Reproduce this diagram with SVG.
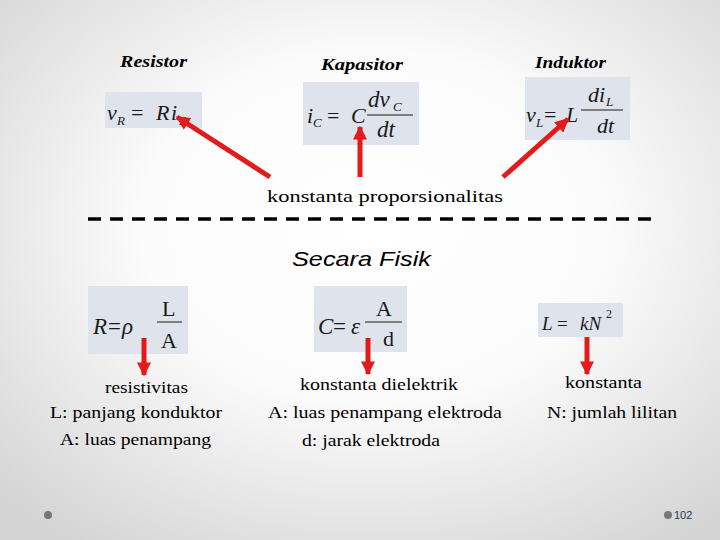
<svg xmlns="http://www.w3.org/2000/svg" width="720" height="540" viewBox="0 0 720 540">
<defs>
<radialGradient id="bg" cx="52%" cy="42%" r="72%">
<stop offset="0" stop-color="#ffffff"/>
<stop offset="0.45" stop-color="#fbfbfb"/>
<stop offset="1" stop-color="#d4d4d4"/>
</radialGradient>
<marker id="ah" viewBox="0 0 10 10" refX="9" refY="5" markerWidth="14" markerHeight="14" markerUnits="userSpaceOnUse" orient="auto">
<path d="M0,0 L10,5 L0,10 Z" fill="#e31b1b"/>
</marker>
<style>
.title{font-family:"Liberation Serif",serif;font-weight:bold;font-style:italic;font-size:17px;fill:#000}
.lbl{font-family:"Liberation Serif",serif;font-size:17px;fill:#000}
.box{fill:#dfe4ec}
.m{font-family:"Liberation Serif",serif;font-style:italic;fill:#1a1a1a}
.up{font-style:normal}
.fl{stroke:#1a1a1a;stroke-width:1}
.arr{stroke:#e31b1b;stroke-width:5;fill:none;marker-end:url(#ah)}
</style>
</defs>
<rect width="720" height="540" fill="url(#bg)"/>

<g id="resistor">
<text class="title" x="120" y="67" textLength="67" lengthAdjust="spacingAndGlyphs">Resistor</text>
<rect class="box" x="105" y="92" width="97" height="36"/>
<text class="m" font-size="22"><tspan x="107" y="120">v</tspan><tspan x="117" y="125" font-size="13">R</tspan><tspan x="131" y="120" class="up">=</tspan><tspan x="156" y="120">R</tspan><tspan x="171" y="120">i</tspan><tspan x="179" y="125" font-size="13">R</tspan></text>
</g>

<g id="kapasitor">
<text class="title" x="321" y="70" textLength="82" lengthAdjust="spacingAndGlyphs">Kapasitor</text>
<rect class="box" x="303" y="82" width="116" height="63"/>
<text class="m" font-size="22"><tspan x="307" y="123">i</tspan><tspan x="313" y="127" font-size="13">C</tspan><tspan x="327" y="123" class="up">=</tspan><tspan x="351" y="123">C</tspan></text>
<line class="fl" x1="367" y1="115" x2="413" y2="115"/>
<text class="m" font-size="23"><tspan x="368" y="107">dv</tspan><tspan x="393" y="111" font-size="13">C</tspan><tspan x="377" y="137">dt</tspan></text>
</g>

<g id="induktor">
<text class="title" x="535" y="68" textLength="71" lengthAdjust="spacingAndGlyphs">Induktor</text>
<rect class="box" x="525" y="77" width="105" height="63"/>
<text class="m" font-size="22"><tspan x="526" y="122">v</tspan><tspan x="536" y="127" font-size="13">L</tspan><tspan x="544" y="122" class="up">=</tspan><tspan x="566" y="122">L</tspan></text>
<line class="fl" x1="581" y1="110" x2="623" y2="110"/>
<text class="m" font-size="22"><tspan x="588" y="102">di</tspan><tspan x="606" y="106" font-size="13">L</tspan><tspan x="597" y="133">dt</tspan></text>
</g>

<g id="rumus-r">
<rect class="box" x="88" y="286" width="100" height="68"/>
<text class="m" font-size="23"><tspan x="93" y="334">R</tspan><tspan x="108" y="334" class="up">=</tspan><tspan x="122" y="334">ρ</tspan></text>
<line class="fl" x1="157" y1="322" x2="182" y2="322"/>
<text class="m" font-size="22" style="font-style:normal"><tspan x="162" y="316">L</tspan><tspan x="161" y="348">A</tspan></text>
</g>

<g id="rumus-c">
<rect class="box" x="314" y="286" width="93" height="66"/>
<text class="m" font-size="23"><tspan x="318" y="334">C</tspan><tspan x="333" y="334" class="up">=</tspan><tspan x="351" y="334">ε</tspan></text>
<line class="fl" x1="365" y1="322" x2="402" y2="322"/>
<text class="m" font-size="22" style="font-style:normal"><tspan x="376" y="316">A</tspan><tspan x="383" y="346">d</tspan></text>
</g>

<g id="rumus-l">
<rect class="box" x="538" y="303" width="85" height="34"/>
<text class="m" font-size="19"><tspan x="542" y="330">L</tspan><tspan x="557" y="330" class="up">=</tspan><tspan x="580" y="330">kN</tspan><tspan x="606" y="318" font-size="12" class="up">2</tspan></text>
</g>

<g id="connectors">
<line class="arr" x1="270" y1="177" x2="177" y2="117"/>
<line class="arr" x1="360" y1="177" x2="360" y2="127"/>
<line class="arr" x1="503" y1="177" x2="568" y2="119"/>
<line class="arr" x1="144" y1="338" x2="144" y2="375"/>
<line class="arr" x1="368" y1="338" x2="368" y2="374"/>
<line class="arr" x1="587" y1="337" x2="587" y2="374"/>
<line x1="88" y1="219" x2="660" y2="219" stroke="#000" stroke-width="3.5" stroke-dasharray="13 9"/>
</g>

<g id="labels">
<text class="lbl" x="267" y="202" textLength="236" lengthAdjust="spacingAndGlyphs">konstanta proporsionalitas</text>
<text x="292" y="266" font-family="Liberation Sans, sans-serif" font-style="italic" font-size="21" textLength="139" lengthAdjust="spacingAndGlyphs">Secara Fisik</text>
<text class="lbl" x="105" y="393" textLength="83" lengthAdjust="spacingAndGlyphs">resistivitas</text>
<text class="lbl" x="50" y="418" textLength="172" lengthAdjust="spacingAndGlyphs">L: panjang konduktor</text>
<text class="lbl" x="60" y="445" textLength="151" lengthAdjust="spacingAndGlyphs">A: luas penampang</text>
<text class="lbl" x="300" y="390" textLength="158" lengthAdjust="spacingAndGlyphs">konstanta dielektrik</text>
<text class="lbl" x="268" y="418" textLength="234" lengthAdjust="spacingAndGlyphs">A: luas penampang elektroda</text>
<text class="lbl" x="302" y="446" textLength="138" lengthAdjust="spacingAndGlyphs">d: jarak elektroda</text>
<text class="lbl" x="565" y="388" textLength="77" lengthAdjust="spacingAndGlyphs">konstanta</text>
<text class="lbl" x="547" y="418" textLength="130" lengthAdjust="spacingAndGlyphs">N: jumlah lilitan</text>
</g>

<g id="footer">
<circle cx="48" cy="515" r="4" fill="#777"/>
<circle cx="668" cy="515" r="4" fill="#777"/>
<text x="674" y="519" font-family="Liberation Sans, sans-serif" font-size="11" fill="#1f3a4d">102</text>
</g>
</svg>
